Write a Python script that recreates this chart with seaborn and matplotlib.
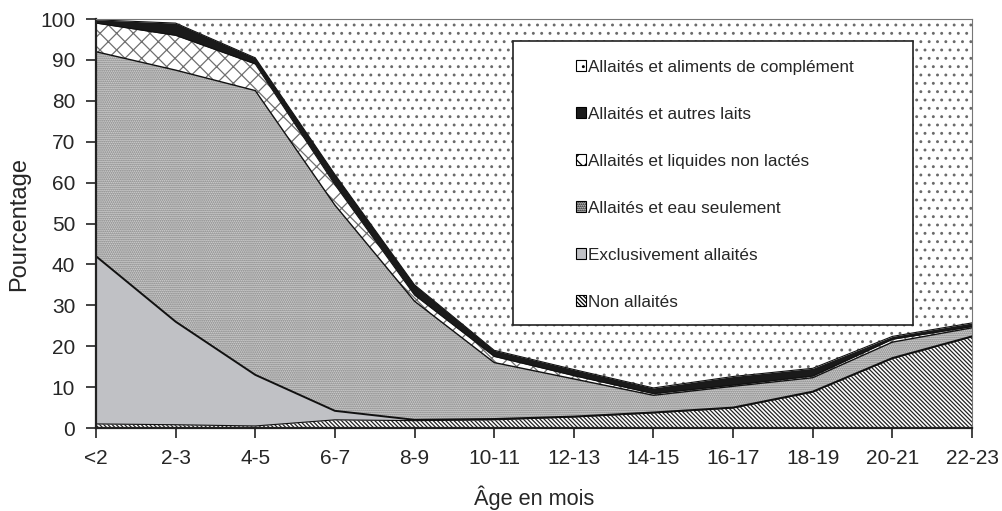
import numpy as np
import pandas as pd
import matplotlib
matplotlib.use("Agg")
import matplotlib.pyplot as plt
from matplotlib.patches import Patch, Rectangle
import seaborn as sns

# age groups (months)
ages = ["<2", "2-3", "4-5", "6-7", "8-9", "10-11", "12-13", "14-15",
        "16-17", "18-19", "20-21", "22-23"]

# percentages per feeding status
non_allaites = [1.0, 0.8, 0.5, 2.0, 1.8, 2.0, 2.7, 3.7, 4.9, 8.8, 17.0, 22.3]
exclusif = [41.0, 25.2, 12.5, 2.2, 0.2, 0.2, 0.1, 0.1, 0.1, 0.1, 0.1, 0.1]
eau = [50.0, 61.5, 69.5, 50.3, 29.0, 13.8, 9.2, 4.2, 5.2, 3.4, 3.9, 2.1]
liquides = [7.0, 8.5, 6.5, 5.0, 1.5, 1.5, 0.8, 0.4, 0.3, 0.4, 0.7, 0.3]
autres_laits = [0.8, 3.0, 1.5, 2.5, 2.5, 1.5, 1.5, 1.4, 2.1, 1.9, 0.7, 0.9]
complement = [0.2, 1.0, 9.5, 38.0, 65.0, 81.0, 85.7, 90.2, 87.4, 85.4, 77.6, 74.3]

labels = ["Non allaités", "Exclusivement allaités", "Allaités et eau seulement",
          "Allaités et liquides non lactés", "Allaités et autres laits",
          "Allaités et aliments de complément"]

sns.set_style("white")
plt.rcParams["font.family"] = ["Liberation Sans", "DejaVu Sans"]
plt.rcParams["hatch.linewidth"] = 0.9

df = pd.DataFrame({"age": ages, labels[0]: non_allaites, labels[1]: exclusif,
                   labels[2]: eau, labels[3]: liquides, labels[4]: autres_laits,
                   labels[5]: complement})
df["x"] = np.arange(len(ages))
cum = df[labels].cumsum(axis=1)

# (facecolor, hatch, hatch colour)
styles = [
    ("white", "\\" * 8, "#222222"),
    ("#c0c1c5", None, "#c0c1c5"),
    ("#d3d3d3", "........", "#7a7a7a"),
    ("white", "xx", "#707070"),
    ("#1a1a1a", None, "#1a1a1a"),
    ("white", "..", "#6a6a6a"),
]

fig = plt.figure(figsize=(10.02, 5.11), dpi=100)
ax = fig.add_axes([0.0958, 0.1624, 0.8743, 0.8004])

bottom = np.zeros(len(ages))
for lab, (fc, hatch, hc) in zip(labels, styles):
    top = cum[lab].values
    ax.fill_between(df["x"], bottom, top, facecolor=fc, hatch=hatch,
                    edgecolor=hc, linewidth=0, zorder=1)
    bottom = top

# boundary lines between layers
for lab, lw in zip(labels[:-1], [0.8, 1.4, 1.0, 0.8, 0.8]):
    sns.lineplot(x=df["x"], y=cum[lab], color="#111111", lw=lw, ax=ax, zorder=2)

ax.set_xlim(0, len(ages) - 1)
ax.set_ylim(0, 100)
ax.set_xticks(df["x"])
ax.set_xticklabels(ages)
ax.set_yticks(np.arange(0, 101, 10))
ax.tick_params(axis="both", direction="out", length=7, width=1.2, color="#222222",
               labelsize=15, pad=8, bottom=True, left=True)
ax.set_xlabel("Âge en mois", fontsize=15.7, labelpad=13)
ax.set_ylabel("Pourcentage", fontsize=17, labelpad=7)

for side in ["left", "bottom"]:
    ax.spines[side].set_color("#222222")
    ax.spines[side].set_linewidth(1.6)
for side in ["top", "right"]:
    ax.spines[side].set_color("#777777")
    ax.spines[side].set_linewidth(0.8)

# legend box
ax.add_patch(Rectangle((0.476, 0.252), 0.457, 0.694, transform=ax.transAxes,
                       facecolor="white", edgecolor="#222222", lw=1.2, zorder=3))
handles = [Patch(facecolor=fc, hatch=h, edgecolor="black", lw=0.8)
           for fc, h, hc in styles]
ax.legend(handles[::-1], labels[::-1], loc="center", bbox_to_anchor=(0.7065, 0.595),
          frameon=False, fontsize=12.3, labelspacing=1.87, handlelength=0.6,
          handleheight=0.6, handletextpad=0.15).set_zorder(4)

fig.savefig("out.png", dpi=100)
